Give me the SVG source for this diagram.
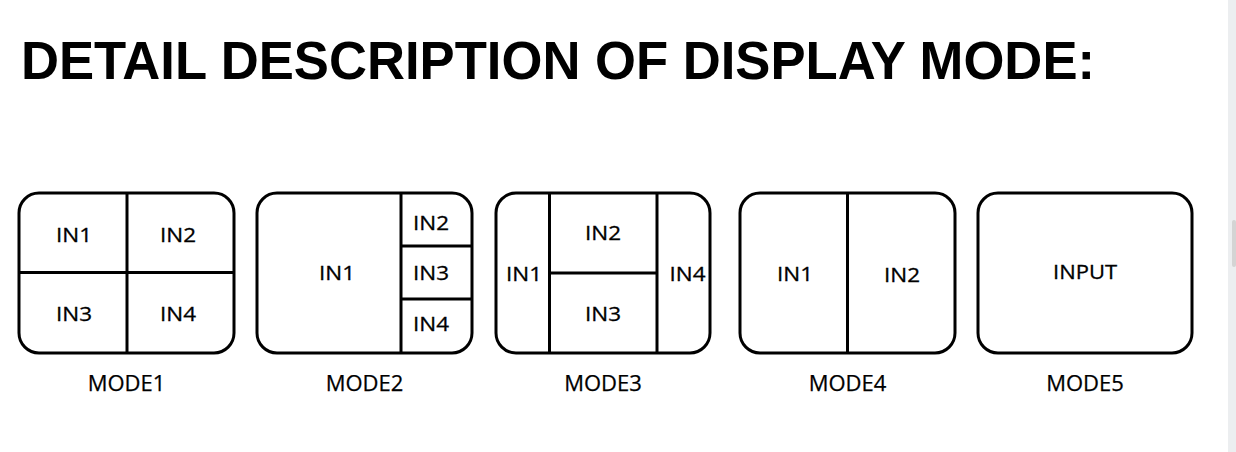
<svg xmlns="http://www.w3.org/2000/svg" width="1236" height="452" viewBox="0 0 1236 452">
<style>
.frame{fill:#fff;stroke:#000;stroke-width:3}
.div{stroke:#000;stroke-width:3;fill:none}
.lbl{font-family:"Open Sans","Liberation Sans",sans-serif;font-size:19.5px;fill:#000;stroke:#000;stroke-width:0.3px;text-anchor:middle}
.cap{font-family:"Open Sans","Liberation Sans",sans-serif;font-size:22px;fill:#000;stroke:#000;stroke-width:0.25px;text-anchor:middle}
.title{font-family:"Liberation Sans",Arial,sans-serif;font-weight:bold;font-size:54px;fill:#000}
</style>
<rect width="1236" height="452" fill="#fff"/>
<rect x="1228" y="0" width="8" height="452" fill="#eceef0"/>
<rect x="1232" y="220" width="4" height="47" rx="2" fill="#d4d4d4"/>
<text class="title" x="21" y="79" textLength="1074" lengthAdjust="spacingAndGlyphs">DETAIL DESCRIPTION OF DISPLAY MODE:</text>

<g id="mode1">
<rect class="frame" x="19" y="193" width="215" height="160" rx="20"/>
<line class="div" x1="127" y1="193" x2="127" y2="353"/>
<line class="div" x1="19" y1="272.5" x2="234" y2="272.5"/>
<text class="lbl" x="74" y="242" textLength="36" lengthAdjust="spacingAndGlyphs">IN1</text>
<text class="lbl" x="178" y="242" textLength="36" lengthAdjust="spacingAndGlyphs">IN2</text>
<text class="lbl" x="74" y="321" textLength="36" lengthAdjust="spacingAndGlyphs">IN3</text>
<text class="lbl" x="178" y="321" textLength="36" lengthAdjust="spacingAndGlyphs">IN4</text>
<text class="cap" x="126.5" y="391">MODE1</text>
</g>

<g id="mode2">
<rect class="frame" x="257" y="193" width="215" height="160" rx="20"/>
<line class="div" x1="401" y1="193" x2="401" y2="353"/>
<line class="div" x1="401" y1="246" x2="472" y2="246"/>
<line class="div" x1="401" y1="299" x2="472" y2="299"/>
<text class="lbl" x="337" y="279.5" textLength="36" lengthAdjust="spacingAndGlyphs">IN1</text>
<text class="lbl" x="431" y="229.5" textLength="36" lengthAdjust="spacingAndGlyphs">IN2</text>
<text class="lbl" x="431" y="279.5" textLength="36" lengthAdjust="spacingAndGlyphs">IN3</text>
<text class="lbl" x="431" y="331" textLength="36" lengthAdjust="spacingAndGlyphs">IN4</text>
<text class="cap" x="364.5" y="391">MODE2</text>
</g>

<g id="mode3">
<rect class="frame" x="496" y="193" width="214" height="160" rx="20"/>
<line class="div" x1="549.5" y1="193" x2="549.5" y2="353"/>
<line class="div" x1="657" y1="193" x2="657" y2="353"/>
<line class="div" x1="549.5" y1="273" x2="657" y2="273"/>
<text class="lbl" x="524" y="280.5" textLength="36" lengthAdjust="spacingAndGlyphs">IN1</text>
<text class="lbl" x="603" y="239.5" textLength="36" lengthAdjust="spacingAndGlyphs">IN2</text>
<text class="lbl" x="603" y="321" textLength="36" lengthAdjust="spacingAndGlyphs">IN3</text>
<text class="lbl" x="687.5" y="280.5" textLength="36" lengthAdjust="spacingAndGlyphs">IN4</text>
<text class="cap" x="603" y="391">MODE3</text>
</g>

<g id="mode4">
<rect class="frame" x="740" y="193" width="215" height="160" rx="20"/>
<line class="div" x1="847.5" y1="193" x2="847.5" y2="353"/>
<text class="lbl" x="795" y="280.5" textLength="36" lengthAdjust="spacingAndGlyphs">IN1</text>
<text class="lbl" x="902" y="282" textLength="36" lengthAdjust="spacingAndGlyphs">IN2</text>
<text class="cap" x="847.5" y="391">MODE4</text>
</g>

<g id="mode5">
<rect class="frame" x="978" y="193" width="214" height="160" rx="20"/>
<text class="lbl" x="1085" y="278.5" textLength="64" lengthAdjust="spacingAndGlyphs">INPUT</text>
<text class="cap" x="1085" y="391">MODE5</text>
</g>

<g id="connectors"></g>
</svg>
